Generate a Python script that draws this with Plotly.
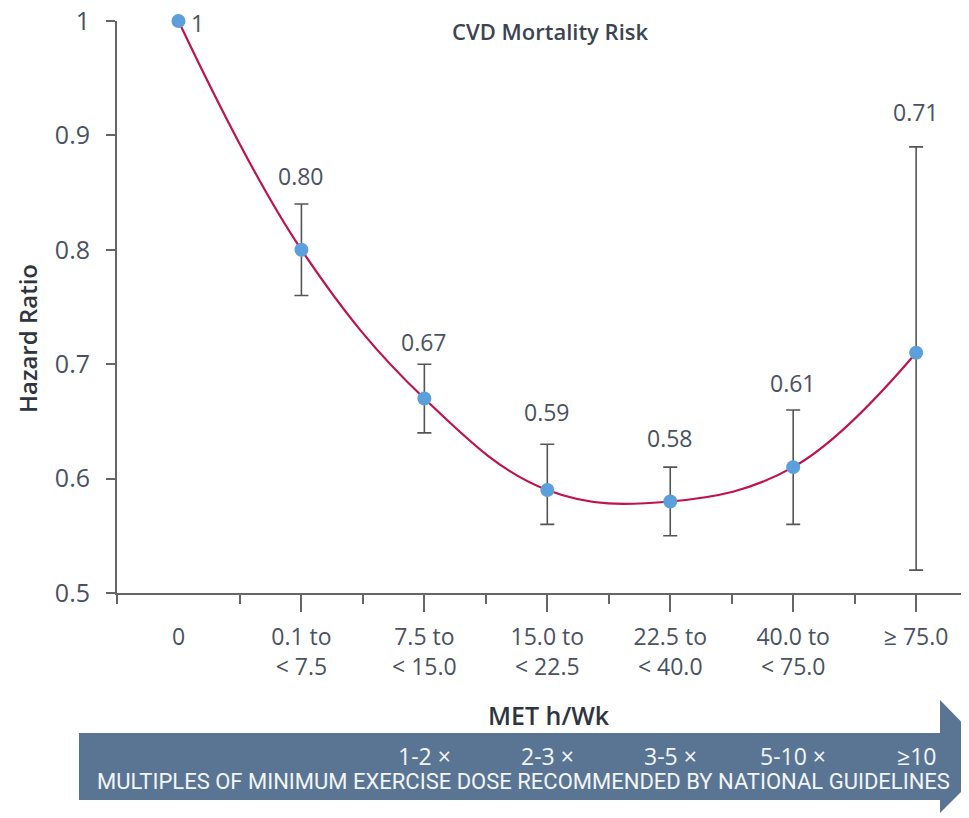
import plotly.graph_objects as go

# ---------------- data ----------------
categories = ["0", "0.1 to<br>< 7.5", "7.5 to<br>< 15.0", "15.0 to<br>< 22.5",
              "22.5 to<br>< 40.0", "40.0 to<br>< 75.0", "≥ 75.0"]
hazard = [1.00, 0.80, 0.67, 0.59, 0.58, 0.61, 0.71]
ci_low = [None, 0.76, 0.64, 0.56, 0.55, 0.56, 0.52]
ci_high = [None, 0.84, 0.70, 0.63, 0.61, 0.66, 0.89]
value_labels = ["1", "0.80", "0.67", "0.59", "0.58", "0.61", "0.71"]
multiples = ["1-2 ×", "2-3 ×", "3-5 ×", "5-10 ×", "≥10"]
multiples_cat = [2, 3, 4, 5, 6]
y_ticks = [0.5, 0.6, 0.7, 0.8, 0.9, 1.0]
y_ticktext = ["0.5", "0.6", "0.7", "0.8", "0.9", "1"]

# ---------------- styles ----------------
OFF = 8                      # default page body margin
PAGE_W, PAGE_H = 969, 818
W, H = PAGE_W - OFF, PAGE_H - OFF
PL, PR, PT, PB = 117, 969, 21, 593   # plot area in page pixels
AX = "#666666"
TXT = "#4a5262"
DARK = "#2f3540"
FONT = "Open Sans"

def px_x(p):
    return (p - PL) / (PR - PL)

def px_y(p):
    return (PB - p) / (PB - PT)

xs = list(range(len(categories)))
err_plus = [0 if h is None else h - v for h, v in zip(ci_high, hazard)]
err_minus = [0 if l is None else v - l for l, v in zip(ci_low, hazard)]

fig = go.Figure()

# error bars
fig.add_trace(go.Scatter(
    x=xs[1:], y=hazard[1:], mode="markers",
    marker=dict(size=1, color="rgba(0,0,0,0)"),
    error_y=dict(type="data", symmetric=False, array=err_plus[1:], arrayminus=err_minus[1:],
                 color="#555555", thickness=1.6, width=7),
    hoverinfo="skip", showlegend=False, cliponaxis=False))

# smooth curve
fig.add_trace(go.Scatter(
    x=xs, y=hazard, mode="lines",
    line=dict(color="#c0134b", width=2.2, shape="spline", smoothing=1.1),
    showlegend=False, cliponaxis=False))

# points
fig.add_trace(go.Scatter(
    x=xs, y=hazard, mode="markers",
    marker=dict(size=14, color="#5b9fdc"),
    showlegend=False, cliponaxis=False))

# hidden trace for the label axis
fig.add_trace(go.Scatter(x=xs, y=hazard, xaxis="x2", mode="markers",
                         marker=dict(size=1, color="rgba(0,0,0,0)"),
                         showlegend=False, hoverinfo="skip"))

annotations = []
label_shift = [0, 28, 22, 32, 29, 27, 35]
for i, (lab, hi) in enumerate(zip(value_labels, ci_high)):
    if hi is None:
        annotations.append(dict(x=xs[i], y=hazard[i], xref="x", yref="y", text=lab,
                                showarrow=False, xanchor="left", yanchor="middle",
                                xshift=11, yshift=-2,
                                font=dict(family=FONT, size=23, color=TXT)))
    else:
        annotations.append(dict(x=xs[i], y=hi, xref="x", yref="y", text=lab,
                                showarrow=False, xanchor="center", yanchor="middle",
                                yshift=label_shift[i],
                                font=dict(family=FONT, size=23, color=TXT)))

annotations.append(dict(x=px_x(550), y=px_y(31), xref="paper", yref="paper",
                        xanchor="center", yanchor="middle",
                        text="CVD Mortality Risk", showarrow=False,
                        font=dict(family=FONT, size=22, color="#3c4452", weight=600)))
annotations.append(dict(x=px_x(27), y=px_y(339), xref="paper", yref="paper",
                        xanchor="center", yanchor="middle", textangle=-90,
                        text="Hazard Ratio", showarrow=False,
                        font=dict(family=FONT, size=24, color=DARK, weight=600)))
annotations.append(dict(x=px_x(549), y=px_y(715), xref="paper", yref="paper",
                        xanchor="center", yanchor="middle",
                        text="MET h/Wk", showarrow=False,
                        font=dict(family=FONT, size=25, color=DARK, weight=600)))
for m, c in zip(multiples, multiples_cat):
    annotations.append(dict(x=c, y=px_y(756), xref="x", yref="paper", text=m,
                            xanchor="center", yanchor="middle", showarrow=False,
                            font=dict(family=FONT, size=23, color="#f2f5f8")))
annotations.append(dict(x=px_x(523), y=px_y(781), xref="paper", yref="paper",
                        xanchor="center", yanchor="middle",
                        text="MULTIPLES OF MINIMUM EXERCISE DOSE RECOMMENDED BY NATIONAL GUIDELINES",
                        showarrow=False,
                        font=dict(family="Roboto", size=22, color="#f2f5f8")))

band = "#5a7593"
shapes = [
    dict(type="rect", xref="paper", yref="paper", x0=px_x(79), x1=px_x(941),
         y0=px_y(800), y1=px_y(733), fillcolor=band, line=dict(width=0), layer="below"),
    dict(type="path", xref="paper", yref="paper",
         path=f"M {px_x(940)} {px_y(700)} L {px_x(996)} {px_y(757)} L {px_x(940)} {px_y(813)} Z",
         fillcolor=band, line=dict(width=0), layer="below"),
]

fig.update_layout(
    width=W, height=H,
    margin=dict(l=PL - OFF, r=PAGE_W - PR, t=PT - OFF, b=PAGE_H - PB, pad=0),
    plot_bgcolor="white", paper_bgcolor="white",
    font=dict(family=FONT, color=TXT),
    showlegend=False,
    annotations=annotations,
    shapes=shapes,
    xaxis=dict(range=[-0.5, 6.43], tickmode="array", tickvals=xs[1:],
               showticklabels=False, ticks="outside", ticklen=17, tickwidth=2,
               tickcolor=AX, showline=True, linecolor=AX, linewidth=2,
               showgrid=False, zeroline=False, automargin=False,
               minor=dict(tickmode="array", tickvals=[-0.5, 0.5, 1.5, 2.5, 3.5, 4.5, 5.5],
                          ticks="outside", ticklen=9, tickwidth=2, tickcolor=AX)),
    xaxis2=dict(overlaying="x", matches="x", anchor="y", side="bottom",
                tickmode="array", tickvals=xs, ticktext=categories,
                ticks="outside", ticklen=17, tickcolor="rgba(0,0,0,0)",
                ticklabelstandoff=6, ticklabeloverflow="allow",
                showline=False, showgrid=False, zeroline=False, automargin=False,
                tickfont=dict(family=FONT, size=23, color=TXT)),
    yaxis=dict(range=[0.5, 1.0], tickmode="array", tickvals=y_ticks, ticktext=y_ticktext,
               ticks="outside", ticklen=9, tickwidth=2, tickcolor=AX,
               ticklabelstandoff=11, ticklabeloverflow="allow",
               showline=True, linecolor=AX, linewidth=2, showgrid=False, zeroline=False,
               automargin=False,
               tickfont=dict(family=FONT, size=25, color=TXT)),
)

fig.write_html("out.html")
